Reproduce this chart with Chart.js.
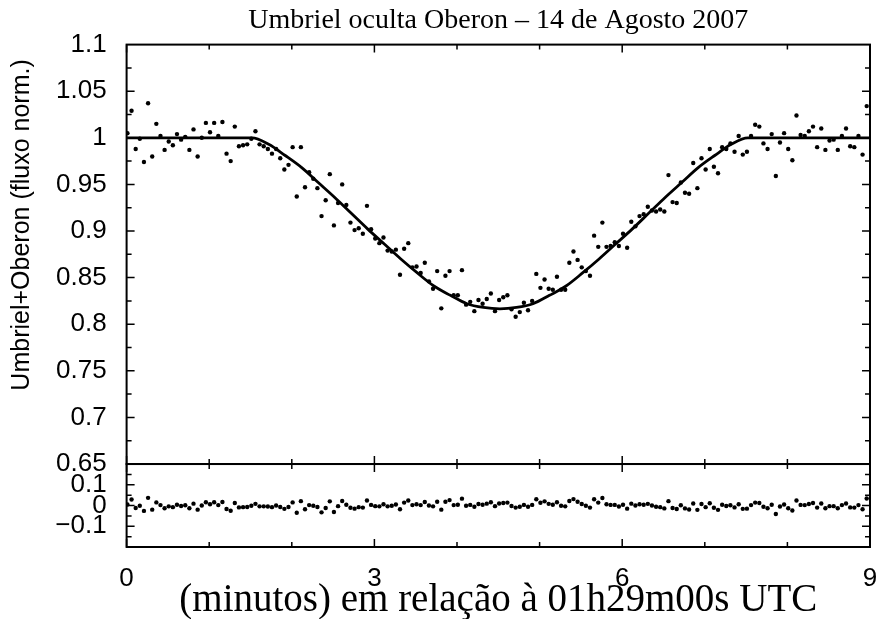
<!DOCTYPE html>
<html>
<head>
<meta charset="utf-8">
<script src="https://cdn.jsdelivr.net/npm/chart.js@4.4.0/dist/chart.umd.min.js"></script>
<style>
  html, body { margin: 0; padding: 0; background: #fff; }
  #wrap { width: 877px; height: 619px; }
</style>
</head>
<body>
<div id="wrap"><canvas id="chart" width="877" height="619"></canvas></div>
<script>
// sample times (minutes after 01h29m00s UTC)
const times = [
  0.01,0.06,0.11,0.16,0.21,0.26,0.31,0.36,0.41,0.46,0.51,0.56,0.61,0.66,0.71,0.76,0.81,0.86,0.91,0.96,
  1.01,1.06,1.11,1.16,1.21,1.26,1.31,1.36,1.41,1.46,1.51,1.56,1.61,1.66,1.71,1.76,1.81,1.86,1.91,1.96,
  2.01,2.06,2.11,2.16,2.21,2.26,2.31,2.36,2.41,2.46,2.51,2.56,2.61,2.66,2.71,2.76,2.81,2.86,2.91,2.96,
  3.01,3.06,3.11,3.16,3.21,3.26,3.31,3.36,3.41,3.46,3.51,3.56,3.61,3.66,3.71,3.76,3.81,3.86,3.91,3.96,
  4.01,4.06,4.11,4.16,4.21,4.26,4.31,4.36,4.41,4.46,4.51,4.56,4.61,4.66,4.71,4.76,4.81,4.86,4.91,4.96,
  5.01,5.06,5.11,5.16,5.21,5.26,5.31,5.36,5.41,5.46,5.51,5.56,5.61,5.66,5.71,5.76,5.81,5.86,5.91,5.96,
  6.01,6.06,6.11,6.16,6.21,6.26,6.31,6.36,6.41,6.46,6.51,6.56,6.61,6.66,6.71,6.76,6.81,6.86,6.91,6.96,
  7.01,7.06,7.11,7.16,7.21,7.26,7.31,7.36,7.41,7.46,7.51,7.56,7.61,7.66,7.71,7.76,7.81,7.86,7.91,7.96,
  8.01,8.06,8.11,8.16,8.21,8.26,8.31,8.36,8.41,8.46,8.51,8.56,8.61,8.66,8.71,8.76,8.81,8.86,8.91,8.96
];

// Umbriel+Oberon normalised flux
const flux = [
  1.005,1.029,0.988,0.999,0.974,1.037,0.980,1.015,1.002,0.987,0.996,0.992,1.004,0.998,1.001,0.987,1.009,0.980,1.000,1.016,
  1.006,1.016,1.002,1.017,0.983,0.975,1.012,0.991,0.992,0.993,0.999,1.007,0.993,0.991,0.988,0.983,0.988,0.978,0.966,0.971,
  0.990,0.937,0.990,0.947,0.963,0.956,0.946,0.916,0.933,0.961,0.906,0.930,0.950,0.928,0.909,0.901,0.903,0.897,0.927,0.902,
  0.892,0.887,0.893,0.879,0.878,0.880,0.853,0.881,0.887,0.861,0.862,0.855,0.866,0.846,0.838,0.857,0.817,0.852,0.857,0.831,
  0.831,0.858,0.821,0.824,0.814,0.826,0.822,0.827,0.833,0.814,0.826,0.829,0.831,0.816,0.808,0.813,0.823,0.815,0.825,0.854,
  0.839,0.848,0.838,0.837,0.851,0.837,0.837,0.866,0.878,0.869,0.861,0.857,0.852,0.895,0.883,0.909,0.883,0.884,0.888,0.884,
  0.897,0.882,0.910,0.905,0.916,0.918,0.926,0.922,0.921,0.923,0.921,0.960,0.931,0.930,0.952,0.941,0.940,0.973,0.946,0.978,
  0.966,0.988,0.969,0.962,0.990,0.988,0.994,0.985,1.002,0.982,0.985,1.002,1.014,1.012,0.994,0.988,1.004,0.959,0.995,1.005,
  0.988,0.976,1.024,1.003,1.002,1.007,1.012,0.990,1.010,0.987,0.997,0.998,0.987,1.002,1.010,0.991,0.990,1.002,0.982,1.034
];

// residuals (observed - model)
const residuals = [
  0.005,0.029,-0.012,-0.001,-0.026,0.037,-0.020,0.015,0.002,-0.013,-0.004,-0.008,0.004,-0.002,0.001,-0.013,0.009,-0.020,0.000,0.016,
  0.006,0.016,0.002,0.017,-0.017,-0.025,0.012,-0.009,-0.008,-0.007,-0.001,0.008,-0.004,-0.004,-0.005,-0.008,0.000,-0.007,-0.016,-0.007,
  0.015,-0.035,0.021,-0.018,0.002,-0.001,-0.007,-0.033,-0.012,0.020,-0.031,-0.003,0.022,0.004,-0.011,-0.015,-0.008,-0.010,0.024,0.003,
  -0.003,-0.004,0.006,-0.004,-0.001,0.005,-0.018,0.014,0.024,0.002,0.006,0.002,0.017,0.000,-0.004,0.018,-0.020,0.018,0.026,0.002,
  0.004,0.033,-0.001,0.003,-0.006,0.007,0.004,0.009,0.016,-0.003,0.010,0.012,0.014,-0.002,-0.010,-0.006,0.003,-0.006,0.003,0.030,
  0.013,0.020,0.008,0.004,0.016,-0.001,-0.004,0.022,0.031,0.018,0.007,-0.001,-0.010,0.030,0.014,0.036,0.006,0.003,0.003,-0.005,
  0.004,-0.015,0.009,0.000,0.006,0.004,0.008,0.000,-0.006,-0.008,-0.014,0.021,-0.012,-0.017,0.001,-0.014,-0.019,0.010,-0.021,0.007,
  -0.008,0.011,-0.011,-0.021,0.004,-0.002,0.001,-0.009,0.006,-0.016,-0.015,0.002,0.014,0.012,-0.006,-0.013,0.004,-0.041,-0.005,0.005,
  -0.013,-0.024,0.024,0.003,0.002,0.007,0.012,-0.010,0.010,-0.013,-0.003,-0.003,-0.013,0.002,0.010,-0.009,-0.010,0.002,-0.018,0.034
];

// fitted light curve
const modelTimes = [0, 1.52, 1.72, 1.92, 2.12, 2.32, 2.52, 2.72, 2.92, 3.12, 3.32, 3.52, 3.72, 3.92, 4.12, 4.32,
  4.52, 4.72, 4.92, 5.12, 5.32, 5.52, 5.72, 5.92, 6.12, 6.32, 6.52, 6.72, 6.92, 7.12, 7.32, 7.52, 9];
const modelFlux = [1, 1, 0.993, 0.981, 0.968, 0.952, 0.936, 0.919, 0.902, 0.886, 0.870, 0.855, 0.841, 0.831, 0.822, 0.818,
  0.8165, 0.818, 0.822, 0.831, 0.841, 0.855, 0.870, 0.886, 0.902, 0.919, 0.936, 0.952, 0.968, 0.981, 0.993, 1, 1];

// ticks
const xMajorTicks = [0, 3, 6, 9];
const xMinorTicks = [1, 2, 4, 5, 7, 8];
const yMainMinorStep = 0.025;
const yResTicks = [-0.1, 0, 0.1];
const yResMinorTicks = [-0.15, -0.05, 0.05, 0.15];

const SANS = "'Liberation Sans', Arial, sans-serif";
const SERIF = "'Liberation Serif', 'Times New Roman', serif";

const pointsMain = times.map((t, i) => ({ x: t, y: flux[i] }));
const pointsRes = times.map((t, i) => ({ x: t, y: residuals[i] }));
const pointsModel = modelTimes.map((t, i) => ({ x: t, y: modelFlux[i] }));

// frame + inward ticks, gnuplot style
const framePlugin = {
  id: 'frame',
  afterDatasetsDraw(chart) {
    const { ctx, chartArea } = chart;
    const x = chart.scales.x, y = chart.scales.y, yr = chart.scales.yres;
    const L = chartArea.left, R = chartArea.right;
    ctx.save();
    ctx.strokeStyle = '#000';
    ctx.lineWidth = 2;
    ctx.strokeRect(L, y.top, R - L, y.bottom - y.top);
    ctx.strokeRect(L, yr.top, R - L, yr.bottom - yr.top);

    ctx.lineWidth = 1.5;
    ctx.beginPath();
    const xTick = (v, len) => {
      const px = x.getPixelForValue(v);
      ctx.moveTo(px, y.top); ctx.lineTo(px, y.top + len);
      ctx.moveTo(px, y.bottom); ctx.lineTo(px, y.bottom - len);
      ctx.moveTo(px, yr.top); ctx.lineTo(px, yr.top + len);
      ctx.moveTo(px, yr.bottom); ctx.lineTo(px, yr.bottom - len);
    };
    xMajorTicks.forEach(v => xTick(v, 8));
    xMinorTicks.forEach(v => xTick(v, 5));

    const yTick = (scale, v, len) => {
      const py = scale.getPixelForValue(v);
      ctx.moveTo(L, py); ctx.lineTo(L + len, py);
      ctx.moveTo(R, py); ctx.lineTo(R - len, py);
    };
    const n = Math.round((y.max - y.min) / yMainMinorStep);
    for (let k = 1; k < n; k++) {
      yTick(y, y.min + k * yMainMinorStep, k % 2 === 0 ? 8 : 5);
    }
    yResTicks.forEach(v => yTick(yr, v, 8));
    yResMinorTicks.forEach(v => yTick(yr, v, 5));
    ctx.stroke();

    // y axis title
    ctx.fillStyle = '#000';
    ctx.font = '25px ' + SANS;
    ctx.textAlign = 'center';
    ctx.textBaseline = 'middle';
    ctx.translate(22, y.top + (y.bottom - y.top) * 0.43);
    ctx.rotate(-Math.PI / 2);
    ctx.fillText('Umbriel+Oberon (fluxo norm.)', 0, 0);
    ctx.restore();
  }
};

const ctx = document.getElementById('chart');
new Chart(ctx, {
  type: 'scatter',
  data: {
    datasets: [
      {
        label: 'modelo',
        type: 'line',
        data: pointsModel,
        yAxisID: 'y',
        borderColor: '#000',
        borderWidth: 2.8,
        pointRadius: 0,
        cubicInterpolationMode: 'monotone',
        fill: false
      },
      {
        label: 'dados',
        data: pointsMain,
        yAxisID: 'y',
        backgroundColor: '#000',
        borderWidth: 0,
        pointRadius: 2.2
      },
      {
        label: 'resíduos',
        data: pointsRes,
        yAxisID: 'yres',
        backgroundColor: '#000',
        borderWidth: 0,
        pointRadius: 2.2
      }
    ]
  },
  options: {
    responsive: false,
    animation: false,
    devicePixelRatio: 1,
    layout: { padding: { left: 0, right: 7, top: 0, bottom: 0 } },
    plugins: {
      legend: { display: false },
      tooltip: { enabled: false },
      title: {
        display: true,
        fullSize: false,
        text: 'Umbriel oculta Oberon – 14 de Agosto 2007',
        color: '#000',
        font: { family: SERIF, size: 28, weight: 'normal' },
        padding: { top: 4, bottom: 7 }
      }
    },
    scales: {
      x: {
        type: 'linear',
        min: 0,
        max: 9,
        grid: { display: false },
        border: { display: false },
        ticks: {
          stepSize: 3,
          color: '#000',
          padding: 8,
          font: { family: SANS, size: 26 }
        },
        title: {
          display: true,
          text: '(minutos) em relação à 01h29m00s UTC',
          color: '#000',
          font: { family: SERIF, size: 39, lineHeight: 1 },
          padding: { top: 0, bottom: -1 }
        },
        afterFit(scale) {
          scale.height = 72;
          scale.paddingLeft = 0;
          scale.paddingRight = 0;
        }
      },
      yres: {
        type: 'linear',
        position: 'left',
        stack: 'panels',
        stackWeight: 1,
        min: -0.2,
        max: 0.2,
        grid: { display: false },
        border: { display: false },
        ticks: {
          stepSize: 0.1,
          autoSkip: false,
          color: '#000',
          padding: 12,
          font: { family: SANS, size: 26 },
          callback: v => {
            const r = Math.round(v * 100) / 100;
            if (Math.abs(r) > 0.15) return '';
            if (r < 0) return '\u2212' + Math.abs(r);
            return String(r);
          }
        },
        afterFit(scale) { scale.width = 126.6; }
      },
      y: {
        type: 'linear',
        position: 'left',
        stack: 'panels',
        stackWeight: 5.055,
        min: 0.65,
        max: 1.1,
        grid: { display: false },
        border: { display: false },
        ticks: {
          stepSize: 0.05,
          autoSkip: false,
          color: '#000',
          padding: 12,
          font: { family: SANS, size: 26 },
          callback: v => String(Number(v.toFixed(3)))
        },
        afterFit(scale) { scale.width = 126.6; }
      }
    }
  },
  plugins: [framePlugin]
});
</script>
</body>
</html>
